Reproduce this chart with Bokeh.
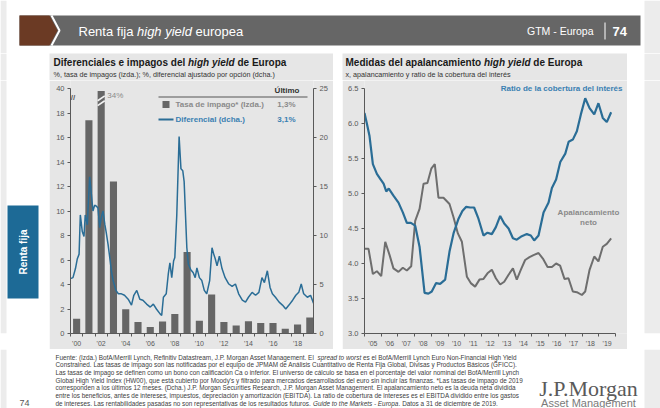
import math
import unicodedata
from bokeh.plotting import figure
from bokeh.models import Range1d, LinearAxis, FixedTicker, Label, BoxAnnotation, PrintfTickFormatter
from bokeh.layouts import row, column
from bokeh.core.properties import value
from bokeh.embed import file_html
from bokeh.resources import INLINE

# ---------------- data ----------------
DEFAULT_YEARS = list(range(2000, 2020))
DEFAULT_RATE = [1.2, 17.4, 34.0, 12.4, 1.97, 0.94, 0.54, 0.97, 1.59, 6.66,
                1.05, 3.18, 0.94, 0.65, 1.0, 0.86, 0.86, 0.38, 0.73, 1.3]

SPREAD_DATE = [2000.0, 2000.2, 2000.4, 2000.55, 2000.7, 2000.8, 2000.96, 2001.1, 2001.2, 2001.37,
               2001.56, 2001.7, 2001.83, 2001.97, 2002.1, 2002.24, 2002.38, 2002.5, 2002.65, 2002.8,
               2002.9, 2003.06, 2003.2, 2003.33, 2003.47, 2003.7, 2003.9, 2004.15, 2004.4, 2004.7,
               2004.97, 2005.16, 2005.4, 2005.65, 2005.9, 2006.2, 2006.5, 2006.75, 2007.0, 2007.3,
               2007.43, 2007.57, 2007.8, 2007.97, 2008.1, 2008.25, 2008.4, 2008.5, 2008.66, 2008.85,
               2009.0, 2009.15, 2009.26, 2009.48, 2009.6, 2009.8, 2010.0, 2010.16, 2010.3, 2010.5,
               2010.7, 2010.9, 2011.1, 2011.34, 2011.53, 2011.67, 2011.8, 2011.94, 2012.13, 2012.35,
               2012.6, 2012.9, 2013.17, 2013.44, 2013.7, 2014.0, 2014.26, 2014.5, 2014.8, 2015.08,
               2015.35, 2015.6, 2015.8, 2016.04, 2016.26, 2016.45, 2016.7, 2017.0, 2017.27, 2017.54,
               2017.8, 2018.1, 2018.36, 2018.6, 2018.8, 2019.0, 2019.3, 2019.56, 2019.8]
SPREAD = [5.6, 5.7, 6.6, 7.6, 8.1, 12.1, 10.4, 9.9, 12.1, 11.1,
          16.0, 14.2, 12.5, 13.1, 13.0, 12.8, 10.8, 11.8, 12.5, 11.1,
          10.4, 9.1, 7.75, 6.4, 5.4, 4.4, 4.05, 4.05, 3.9, 3.5,
          2.9, 3.9, 4.4, 3.5, 3.4, 3.0, 2.7, 3.0, 2.5, 2.0,
          1.85, 3.7, 4.05, 6.1, 7.2, 5.7, 7.4, 7.75, 12.1, 20.1,
          16.8, 16.6, 15.5, 8.75, 7.1, 6.5, 6.2, 5.7, 6.7, 5.7,
          5.4, 4.4, 4.05, 5.4, 8.75, 8.1, 7.6, 6.9, 7.9, 6.6,
          5.7, 5.05, 4.8, 5.05, 4.05, 3.4, 3.2, 3.7, 4.2, 3.9,
          4.2, 5.7, 5.2, 6.4, 4.7, 4.05, 3.7, 3.2, 2.9, 2.5,
          2.9, 3.4, 3.9, 4.2, 5.05, 4.05, 3.7, 3.9, 3.1]

LEFT_TICKS = [0, 2, 4, 6, 8, 10, 12, 14, 16, 18, 20]
LEFT_TICK_LABELS = ["0", "2", "4", "6", "8", "10", "12", "14", "16", "18", "40"]
RIGHT_TICKS = [0, 5, 10, 15, 20, 25]
LEFT_YEAR_TICKS = [2000, 2002, 2004, 2006, 2008, 2010, 2012, 2014, 2016, 2018]
LEFT_YEAR_LABELS = ["'00", "'02", "'04", "'06", "'08", "'10", "'12", "'14", "'16", "'18"]

COVER_DATE = [2005.0, 2005.14, 2005.3, 2005.5, 2005.74, 2005.94, 2006.14, 2006.3, 2006.45, 2006.73,
              2007.03, 2007.29, 2007.53, 2007.77, 2008.03, 2008.29, 2008.59, 2008.82, 2009.02, 2009.28,
              2009.52, 2009.82, 2010.08, 2010.32, 2010.62, 2010.85, 2011.08, 2011.31, 2011.55, 2011.81,
              2012.11, 2012.35, 2012.61, 2012.85, 2013.11, 2013.35, 2013.61, 2013.87, 2014.1, 2014.4,
              2014.7, 2014.94, 2015.14, 2015.4, 2015.7, 2016.0, 2016.2, 2016.45, 2016.7, 2017.0,
              2017.2, 2017.45, 2017.69, 2017.93, 2018.19, 2018.45, 2018.73, 2018.98, 2019.24, 2019.48,
              2019.74]
COVER = [6.15, 6.0, 5.82, 5.42, 5.28, 5.21, 5.14, 5.03, 5.07, 4.97,
         4.87, 4.73, 4.58, 4.58, 4.54, 4.24, 3.58, 3.57, 3.6, 3.72,
         3.71, 3.77, 4.17, 4.43, 4.64, 4.75, 4.81, 4.8, 4.8, 4.64,
         4.4, 4.44, 4.42, 4.52, 4.68, 4.57, 4.5, 4.36, 4.34, 4.39,
         4.42, 4.4, 4.33, 4.4, 4.73, 4.87, 5.08, 5.2, 5.45, 5.57,
         5.74, 5.77, 5.89, 6.13, 6.36, 6.22, 6.13, 6.29, 6.08, 6.02,
         6.16]

LEVER_DATE = [2005.0, 2005.24, 2005.5, 2005.74, 2006.0, 2006.24, 2006.5, 2006.73, 2007.03, 2007.29,
              2007.53, 2007.79, 2008.03, 2008.29, 2008.53, 2008.76, 2009.0, 2009.2, 2009.42, 2009.72,
              2010.08, 2010.32, 2010.58, 2010.82, 2011.12, 2011.35, 2011.61, 2011.87, 2012.11, 2012.35,
              2012.61, 2012.85, 2013.11, 2013.35, 2013.61, 2013.87, 2014.1, 2014.34, 2014.6, 2014.86,
              2015.1, 2015.4, 2015.66, 2015.94, 2016.2, 2016.45, 2016.69, 2016.95, 2017.19, 2017.45,
              2017.69, 2017.99, 2018.19, 2018.45, 2018.73, 2018.98, 2019.24, 2019.48, 2019.74]
LEVER = [4.21, 4.21, 3.85, 3.89, 3.82, 4.31, 4.12, 3.93, 3.88, 3.94,
         3.9, 3.96, 4.61, 4.78, 5.14, 5.15, 5.36, 5.42, 4.94, 4.94,
         4.85, 4.66, 4.43, 4.31, 3.81, 3.72, 3.67, 3.77, 3.78, 3.86,
         3.91, 3.79, 3.7, 3.74, 3.84, 3.93, 3.77, 3.91, 4.05, 4.09,
         4.12, 4.15, 4.07, 3.95, 3.95, 4.0, 3.97, 3.78, 3.79, 3.6,
         3.59, 3.55, 3.6, 3.91, 4.1, 4.03, 4.24, 4.28, 4.36]

RIGHT_Y_TICKS = [3.0, 3.5, 4.0, 4.5, 5.0, 5.5, 6.0, 6.5]
RIGHT_YEARS = list(range(2005, 2020))
RIGHT_YEAR_LABELS = ["'05", "'06", "'07", "'08", "'09", "'10", "'11", "'12", "'13", "'14",
                     "'15", "'16", "'17", "'18", "'19"]

FOOTNOTE = [
    [("Fuente: (Izda.) BofA/Merrill Lynch, Refinitiv Datastream, J.P. Morgan Asset Management. El ", False),
     ("spread to worst", True), (" es el BofA/Merrill Lynch Euro Non-Financial High Yield", False)],
    [("Constrained. Las tasas de impago son las notificadas por el equipo de JPMAM de Análisis Cuantitativo de Renta Fija Global, Divisas y Productos Básicos (GFICC).", False)],
    [("Las tasas de impago se definen como un bono con calificación Ca o inferior. El universo de cálculo se basa en el porcentaje del valor nominal del BofA/Merrill Lynch", False)],
    [("Global High Yield Index (HW00), que está cubierto por Moody's y filtrado para mercados desarrollados del euro sin incluir las finanzas. *Las tasas de impago de 2019", False)],
    [("corresponden a los últimos 12 meses. (Dcha.) J.P. Morgan Securities Research, J.P. Morgan Asset Management. El apalancamiento neto es la deuda neta dividida", False)],
    [("entre los beneficios, antes de intereses, impuestos, depreciación y amortización (EBITDA). La ratio de cobertura de intereses es el EBITDA dividido entre los gastos", False)],
    [("de intereses. Las rentabilidades pasadas no son representativas de los resultados futuros. ", False),
     ("Guide to the Markets - Europa", True), (". Datos a 31 de diciembre de 2019.", False)],
]

# ---------------- style ----------------
SANS = "Liberation Sans"
SERIF = "Liberation Serif"
PANEL = "#e6e6e6"
OUTER = "#ececec"
DARK = "#595959"
BAR = "#666666"
BLUE_LINE = "#2a6d96"
BLUE_TXT = "#3a80b2"
GRAY_TXT = "#8a8a8a"
GRAY_LINE = "#6e6e6e"

REG = {' ': 278, '!': 278, '%': 889, "'": 191, '(': 333, ')': 333, '*': 389, ',': 278, '-': 333,
       '.': 278, '/': 278, ':': 278, ';': 278, '|': 260,
       'A': 667, 'B': 667, 'C': 722, 'D': 722, 'E': 667, 'F': 611, 'G': 778, 'H': 722, 'I': 278,
       'J': 500, 'K': 667, 'L': 556, 'M': 833, 'N': 722, 'O': 778, 'P': 667, 'Q': 778, 'R': 722,
       'S': 667, 'T': 611, 'U': 722, 'V': 667, 'W': 944, 'X': 667, 'Y': 667, 'Z': 611,
       'a': 556, 'b': 556, 'c': 500, 'd': 556, 'e': 556, 'f': 278, 'g': 556, 'h': 556, 'i': 222,
       'j': 222, 'k': 500, 'l': 222, 'm': 833, 'n': 556, 'o': 556, 'p': 556, 'q': 556, 'r': 333,
       's': 500, 't': 278, 'u': 556, 'v': 500, 'w': 722, 'x': 500, 'y': 500, 'z': 500}
BOLD = {' ': 278, '%': 889, "'": 238, '(': 333, ')': 333, '*': 389, ',': 278, '-': 333, '.': 278,
        'A': 722, 'B': 722, 'C': 722, 'D': 722, 'E': 667, 'F': 611, 'G': 778, 'H': 722, 'I': 278,
        'J': 556, 'K': 722, 'L': 611, 'M': 833, 'N': 722, 'O': 778, 'P': 667, 'R': 722, 'S': 667,
        'T': 611, 'U': 722,
        'a': 556, 'b': 611, 'c': 556, 'd': 611, 'e': 556, 'f': 333, 'g': 611, 'h': 611, 'i': 278,
        'j': 278, 'k': 556, 'l': 278, 'm': 889, 'n': 611, 'o': 611, 'p': 611, 'q': 611, 'r': 389,
        's': 556, 't': 333, 'u': 611, 'v': 556, 'w': 778, 'x': 556, 'y': 556, 'z': 500}


def text_w(s, size, bold=False):
    tab = BOLD if bold else REG
    tot = 0
    for ch in s:
        base = unicodedata.normalize("NFD", ch)[0]
        tot += tab.get(base, 556)
    return tot / 1000.0 * size


def canvas(x0, x1, y0, y1, bg="white", bb=0):
    f = figure(width=x1 - x0, height=y1 - y0 + bb, x_range=Range1d(x0, x1), y_range=Range1d(y1, y0),
               output_backend="svg", toolbar_location=None, min_border=0, min_border_bottom=bb,
               title=None, x_axis_type=None, y_axis_type=None)
    f.grid.visible = False
    f.outline_line_color = None
    f.background_fill_color = bg
    f.border_fill_color = bg
    return f


def ctext(f, x, y, s, size, color, style="normal", align="left", font=SANS, angle=0.0):
    f.text(x=[x], y=[y], text=[s], text_font=value(font), text_font_size=value(f"{size}px"),
           text_color=color, text_font_style=style, text_align=align, text_baseline="middle",
           angle=angle)


def csegs(f, x, y, segs, size, color, bold=False):
    for s, it in segs:
        lead = len(s) - len(s.lstrip())
        style = ("bold " if bold else "") + ("italic" if it else "")
        style = style.strip() or "normal"
        ctext(f, x + text_w(s[:lead], size, bold), y, s.strip(), size, color, style)
        x += text_w(s, size, bold)


def lab(p, x, y, s, size, color, bold=False, italic=False, align="left", units="screen"):
    style = ("bold " if bold else "") + ("italic" if italic else "")
    style = style.strip() or "normal"
    p.add_layout(Label(x=x, y=y, x_units=units, y_units=units, text=s, text_font=SANS,
                       text_font_size=f"{size}px", text_color=color, text_font_style=style,
                       text_align=align, text_baseline="middle"))


def sbox(p, l, r, b, t, color):
    p.add_layout(BoxAnnotation(left=l, right=r, bottom=b, top=t, left_units="screen",
                               right_units="screen", bottom_units="screen", top_units="screen",
                               fill_color=color, fill_alpha=1.0, line_color=None))


def style_axis(ax, size=7.5):
    ax.axis_line_color = DARK
    ax.axis_line_width = 1
    ax.major_tick_line_color = DARK
    ax.major_tick_out = 3
    ax.major_tick_in = 0
    ax.minor_tick_line_color = None
    ax.major_label_text_font = SANS
    ax.major_label_text_font_size = f"{size}px"
    ax.major_label_text_color = DARK
    ax.major_label_standoff = 3


def chart(width, height, xr, yr, bl, br, bt, bb):
    p = figure(width=width, height=height, x_range=xr, y_range=yr, output_backend="svg",
               toolbar_location=None, title=None, min_border_left=bl, min_border_right=br,
               min_border_top=bt, min_border_bottom=bb)
    p.grid.visible = False
    p.outline_line_color = None
    p.background_fill_color = PANEL
    p.border_fill_color = PANEL
    return p


# ---------------- header ----------------
hdr = canvas(0, 660, 0, 53)
hdr.quad(left=[0, 644], right=[6, 660], top=[0, 0], bottom=[53, 53], fill_color=OUTER, line_color=None)
hdr.quad(left=[19], right=[640], top=[15], bottom=[45], fill_color="#666666", line_color=None)
hdr.patch([19, 49, 57, 49, 19], [15, 15, 30, 45, 45], fill_color="#6b3a24", line_color=None)
hdr.line([51, 59, 51], [15, 30, 45], line_color="white", line_width=2)
csegs(hdr, 78, 30.5, [("Renta fija ", False), ("high yield", True), (" europea", False)], 13, "white")
ctext(hdr, 593, 30.5, "GTM - Europa", 10.5, "white", align="right")
hdr.line([604.5, 604.5], [22, 39], line_color="white", line_width=1)
ctext(hdr, 612, 30.5, "74", 13, "white", style="bold")

# ---------------- title row (page y 53..80) ----------------
side_t = canvas(0, 49, 53, 80)
side_t.quad(left=[0], right=[6], top=[53], bottom=[80], fill_color=OUTER, line_color=None)
gap_t = canvas(333, 342, 53, 80)
rmarg_t = canvas(627, 660, 53, 80)
rmarg_t.quad(left=[644], right=[660], top=[53], bottom=[80], fill_color=OUTER, line_color=None)

t1 = canvas(49, 333, 53, 80, bg=PANEL)
csegs(t1, 53, 62, [("Diferenciales e impagos del ", False), ("high yield", True), (" de Europa", False)],
      10, "#1a1a1a", bold=True)
ctext(t1, 53, 74, "%, tasa de impagos (izda.); %, diferencial ajustado por opción (dcha.)", 7.2, "#333333")

t2 = canvas(342, 627, 53, 80, bg=PANEL)
csegs(t2, 345, 62, [("Medidas del apalancamiento ", False), ("high yield", True), (" de Europa", False)],
      10, "#1a1a1a", bold=True)
ctext(t2, 345, 74, "x, apalancamiento y ratio de la cobertura del interés", 7.2, "#333333")

# ---------------- chart row (page y 80..349, frames end at 333) ----------------
side = canvas(0, 49, 80, 333, bb=16)
side.quad(left=[0], right=[6], top=[80], bottom=[333], fill_color=OUTER, line_color=None)
side.quad(left=[7], right=[38], top=[205], bottom=[298], fill_color="#1d6a96", line_color=None)
ctext(side, 23, 251.5, "Renta fija", 10, "white", style="bold", align="center", angle=math.pi / 2)
gap = canvas(333, 342, 80, 333, bb=16)
rmarg = canvas(627, 660, 80, 333, bb=16)
rmarg.quad(left=[644], right=[660], top=[80], bottom=[333], fill_color=OUTER, line_color=None)

# left chart: frame page x 70..313, y 80..333 ; value 20 sits at page y 88
L_TOP = 20 * (333 - 80) / (333 - 88)
p1 = chart(284, 269, Range1d(2000, 2019.8), Range1d(0, L_TOP), 21, 20, 0, 16)
p1.extra_y_ranges = {"spread": Range1d(0, L_TOP * 25 / 20)}
rax = LinearAxis(y_range_name="spread")
p1.add_layout(rax, "right")

style_axis(p1.yaxis[0])
p1.yaxis[0].ticker = FixedTicker(ticks=LEFT_TICKS)
p1.yaxis[0].major_label_overrides = dict(zip(LEFT_TICKS, LEFT_TICK_LABELS))
p1.yaxis[0].bounds = (LEFT_TICKS[0], LEFT_TICKS[-1])
style_axis(rax)
rax.ticker = FixedTicker(ticks=RIGHT_TICKS)
rax.bounds = (RIGHT_TICKS[0], RIGHT_TICKS[-1])
xa1 = p1.xaxis[0]
style_axis(xa1, 7)
lt = [y + 0.5 for y in LEFT_YEAR_TICKS]
xa1.ticker = FixedTicker(ticks=lt, minor_ticks=list(range(2000, 2021)))
xa1.major_label_overrides = dict(zip(lt, LEFT_YEAR_LABELS))
xa1.major_tick_out = 0
xa1.minor_tick_line_color = DARK
xa1.minor_tick_out = 3
xa1.minor_tick_in = 0

CLIP = 19.8
bar_x = [y + 0.5 for y in DEFAULT_YEARS]
bar_top = [min(v, CLIP) for v in DEFAULT_RATE]
p1.vbar(x=bar_x, top=bar_top, width=0.58, fill_color=BAR, line_color=None)
imax = DEFAULT_RATE.index(max(DEFAULT_RATE))
bx = bar_x[imax]
p1.segment(x0=[bx - 0.29, bx - 0.29], y0=[18.6, 19.0], x1=[bx + 0.29, bx + 0.29], y1=[19.0, 19.4],
           line_color="#f2f2f2", line_width=1.6)
p1.line(SPREAD_DATE, SPREAD, y_range_name="spread", line_color=BLUE_LINE, line_width=1.5)
lab(p1, bx + 0.5, 19.4, f"{DEFAULT_RATE[imax]:.0f}%", 8, GRAY_TXT, units="data")

# axis break marker
p1.add_layout(Label(x=2.5, y=236, x_units="screen", y_units="screen", text="//", text_font=SANS,
                    text_font_size="8px", text_font_style="bold", text_color=DARK,
                    text_align="center", text_baseline="middle"))

# legend (frame left = page x 70, frame bottom = page y 333)
lab(p1, 229, 243.5, "Último", 8, "#333333", bold=True, align="right")
sbox(p1, 88, 237, 236, 237, "#555555")
sbox(p1, 92, 99, 225.5, 232.5, BAR)
lab(p1, 105, 229, "Tasa de impago* (Izda.)", 8, GRAY_TXT, bold=True)
lab(p1, 225, 229, f"{DEFAULT_RATE[-1]:.1f}%".replace(".", ","), 8, GRAY_TXT, bold=True, align="right")
sbox(p1, 88, 103, 213, 215, BLUE_LINE)
lab(p1, 105, 214, "Diferencial (dcha.)", 8, BLUE_TXT, bold=True)
lab(p1, 225, 214, f"{SPREAD[-1]:.1f}%".replace(".", ","), 8, BLUE_TXT, bold=True, align="right")

# right chart: frame page x 364..627 (axis to 615), y 80..333 ; 6.5 at page y 88
R_TOP = 3.0 + 3.5 * (333 - 80) / (333 - 88)
R_END = 2005 + 15 * (627 - 364) / (615 - 364)
p2 = chart(285, 269, Range1d(2005, R_END), Range1d(3.0, R_TOP), 22, 0, 0, 16)
ya2 = p2.yaxis[0]
style_axis(ya2)
ya2.ticker = FixedTicker(ticks=RIGHT_Y_TICKS)
ya2.formatter = PrintfTickFormatter(format="%.1f")
ya2.bounds = (RIGHT_Y_TICKS[0], RIGHT_Y_TICKS[-1])
xa2 = p2.xaxis[0]
style_axis(xa2, 7)
rt = [y + 0.5 for y in RIGHT_YEARS]
xa2.ticker = FixedTicker(ticks=rt, minor_ticks=list(range(2005, 2021)))
xa2.major_label_overrides = dict(zip(rt, RIGHT_YEAR_LABELS))
xa2.bounds = (RIGHT_YEARS[0], RIGHT_YEARS[-1] + 1)
xa2.major_tick_out = 0
xa2.minor_tick_line_color = DARK
xa2.minor_tick_out = 3
xa2.minor_tick_in = 0

p2.line(LEVER_DATE, LEVER, line_color=GRAY_LINE, line_width=2)
p2.line(COVER_DATE, COVER, line_color=BLUE_LINE, line_width=2.2)

lab(p2, 258, 245.5, "Ratio de la cobertura del interés", 8, BLUE_TXT, bold=True, align="right")
lab(p2, 224, 121, "Apalancamiento", 8, GRAY_TXT, bold=True, align="center")
lab(p2, 224, 111, "neto", 8, GRAY_TXT, bold=True, align="center")

# ---------------- footer ----------------
ftr = canvas(0, 660, 349, 408)
ftr.quad(left=[0, 644], right=[6, 660], top=[349, 349], bottom=[408, 408], fill_color=OUTER, line_color=None)
line1 = "".join(s for s, _ in FOOTNOTE[0])
fs = round(462 / text_w(line1, 1.0), 2)
for i, segs in enumerate(FOOTNOTE):
    csegs(ftr, 55, 356.5 + i * 7.7, segs, fs, "#404040")
ctext(ftr, 19, 402, "74", 9, "#555555")
ctext(ftr, 588, 388, "J.P.Morgan", 22, "#5a5a5a", align="center", font=SERIF)
ctext(ftr, 588, 402.5, "Asset Management", 11, "#7a7a7a", align="center")

page = column(hdr,
              row(side_t, t1, gap_t, t2, rmarg_t),
              row(side, p1, gap, p2, rmarg),
              ftr)
open("out.html", "w").write(file_html(page, INLINE))
